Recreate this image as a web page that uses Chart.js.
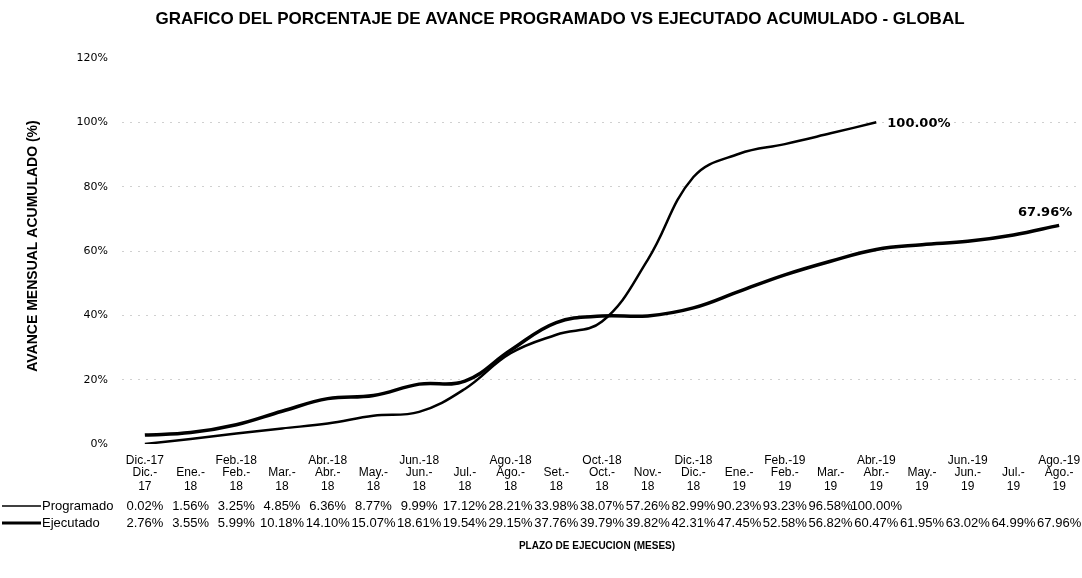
<!DOCTYPE html>
<html><head><meta charset="utf-8">
<script src="https://cdn.jsdelivr.net/npm/chart.js@4.4.1/dist/chart.umd.min.js"></script>
<style>html,body{margin:0;padding:0;background:#fff}#wrap{width:1082px;height:578px;position:relative;background:#fff}</style>
</head><body><div id="wrap"><canvas id="c" width="1082" height="578"></canvas></div>
<script>
const categories = ["Dic.-17","Ene.-18","Feb.-18","Mar.-18","Abr.-18","May.-18","Jun.-18","Jul.-18","Ago.-18","Set.-18","Oct.-18","Nov.-18","Dic.-18","Ene.-19","Feb.-19","Mar.-19","Abr.-19","May.-19","Jun.-19","Jul.-19","Ago.-19"];
const programado = [0.02,1.56,3.25,4.85,6.36,8.77,9.99,17.12,28.21,33.98,38.07,57.26,82.99,90.23,93.23,96.58,100.00,null,null,null,null];
const ejecutado = [2.76,3.55,5.99,10.18,14.10,15.07,18.61,19.54,29.15,37.76,39.79,39.82,42.31,47.45,52.58,56.82,60.47,61.95,63.02,64.99,67.96];
const yTickValues = [0,20,40,60,80,100,120];
const seriesNames = ["Programado","Ejecutado"];
const chartTitle = "GRAFICO DEL PORCENTAJE DE AVANCE PROGRAMADO VS EJECUTADO ACUMULADO - GLOBAL";
const yTitle = "AVANCE MENSUAL ACUMULADO (%)";
const xTitle = "PLAZO DE EJECUCION (MESES)";

const fmt = v => v.toFixed(2) + '%';

const extrasPlugin = {
  id: 'extras',
  afterDraw(chart) {
    const ctx = chart.ctx;
    const xs = chart.scales.x;
    ctx.save();
    ctx.fillStyle = '#000';
    // title
    ctx.font = 'bold 17px "Liberation Sans", Arial, sans-serif';
    ctx.textAlign = 'center';
    ctx.textBaseline = 'middle';
    ctx.fillText(chartTitle, 560, 19);
    // y title
    ctx.save();
    ctx.translate(33, 246);
    ctx.rotate(-Math.PI / 2);
    ctx.font = 'bold 14px "Liberation Sans", Arial, sans-serif';
    ctx.fillText(yTitle, 0, 0);
    ctx.restore();
    // x title
    ctx.font = 'bold 10px "Liberation Sans", Arial, sans-serif';
    ctx.fillText(xTitle, 597, 546);
    // data table header
    ctx.font = '12px "Liberation Sans", Arial, sans-serif';
    categories.forEach((c, i) => {
      const px = xs.getPixelForValue(i);
      const k = c.lastIndexOf('-');
      ctx.fillText(c.slice(0, k + 1), px, 473);
      ctx.fillText(c.slice(k + 1), px, 487);
    });
    // data rows
    ctx.font = '13px "Liberation Sans", Arial, sans-serif';
    [programado, ejecutado].forEach((arr, r) => {
      const y = r === 0 ? 506 : 523;
      arr.forEach((v, i) => {
        if (v === null) return;
        ctx.fillText(fmt(v), xs.getPixelForValue(i), y);
      });
    });
    // legend keys
    ctx.textAlign = 'left';
    seriesNames.forEach((n, r) => {
      const y = r === 0 ? 506 : 523;
      ctx.beginPath();
      ctx.lineWidth = r === 0 ? 1.5 : 3;
      ctx.strokeStyle = '#000';
      ctx.moveTo(2, y); ctx.lineTo(41, y);
      ctx.stroke();
      ctx.fillText(n, 42, y);
    });
    // end labels
    ctx.font = 'bold 13px "DejaVu Sans", sans-serif';
    const m0 = chart.getDatasetMeta(0).data;
    let li = programado.length - 1;
    while (programado[li] === null) li--;
    const p0 = m0[li];
    ctx.textAlign = 'left';
    ctx.fillText(fmt(programado[li]), p0.x + 11, p0.y + 1);
    const m1 = chart.getDatasetMeta(1).data;
    const p1 = m1[ejecutado.length - 1];
    ctx.textAlign = 'center';
    ctx.fillText(fmt(ejecutado[ejecutado.length - 1]), p1.x - 14, p1.y - 13);
    ctx.restore();
  }
};

new Chart(document.getElementById('c'), {
  type: 'line',
  data: {
    labels: categories,
    datasets: [
      { label: seriesNames[0], data: programado, borderColor: '#000', backgroundColor: '#000', borderWidth: 2.5, pointRadius: 0, tension: 0.4, fill: false },
      { label: seriesNames[1], data: ejecutado, borderColor: '#000', backgroundColor: '#000', borderWidth: 3.5, pointRadius: 0, tension: 0.4, fill: false }
    ]
  },
  options: {
    responsive: false,
    animation: false,
    devicePixelRatio: 1,
    layout: { padding: { top: 58, right: 0, left: 0, bottom: 0 } },
    plugins: { legend: { display: false }, tooltip: { enabled: false }, title: { display: false } },
    scales: {
      x: {
        offset: true,
        grid: { display: false, drawTicks: false },
        border: { display: false },
        afterFit: s => { s.height = 134; s.paddingLeft = 0; s.paddingRight = 0; },
        ticks: {
          autoSkip: false, maxRotation: 0, minRotation: 0, padding: 9, color: '#000',
          font: { family: '"Liberation Sans", Arial, sans-serif', size: 12 },
          callback: (v, i) => (i % 2 === 0 ? categories[i] : '')
        }
      },
      y: {
        min: 0, max: 120,
        afterFit: s => { s.width = 122; s.paddingTop = 0; s.paddingBottom = 0; },
        afterBuildTicks: s => { s.ticks = yTickValues.map(v => ({ value: v })); },
        grid: {
          drawTicks: false,
          color: c => (c.tick && (c.tick.value === 0 || c.tick.value === 120)) ? 'rgba(0,0,0,0)' : '#d0d0d0',
          lineWidth: 1
        },
        border: { display: false, dash: [2, 6] },
        ticks: {
          padding: 14, color: '#000',
          font: { family: '"DejaVu Sans", sans-serif', size: 11 },
          callback: v => v + '%'
        }
      }
    }
  },
  plugins: [extrasPlugin]
});
</script>
</body></html>
